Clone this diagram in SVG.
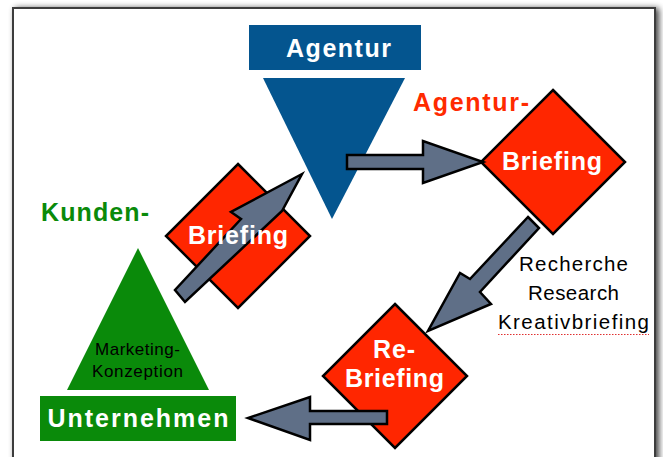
<svg xmlns="http://www.w3.org/2000/svg" width="663" height="457" viewBox="0 0 663 457">
  <defs>
    <filter id="pageShadow" x="-5%" y="-5%" width="110%" height="110%">
      <feGaussianBlur in="SourceAlpha" stdDeviation="3"/>
      <feOffset dx="3" dy="1" result="blur"/>
      <feComponentTransfer><feFuncA type="linear" slope="0.75"/></feComponentTransfer>
      <feMerge><feMergeNode/><feMergeNode in="SourceGraphic"/></feMerge>
    </filter>
    <style>
      .bold { font-family: "Liberation Sans", Arial, sans-serif; font-weight: bold; font-size: 25px; }
      .plain { font-family: "Liberation Sans", Arial, sans-serif; font-weight: normal; fill: #000; }
      .white { fill: #fff; }
      .diamond { fill: #ff2600; stroke: #000; stroke-width: 2.5; stroke-linejoin: miter; }
      .arrow { fill: #5f6f87; stroke: #000; stroke-width: 2.5; stroke-linejoin: miter; }
      .blue { fill: #04558f; }
      .green { fill: #0a8a0a; }
    </style>
  </defs>

  <rect x="0" y="0" width="663" height="457" fill="#fff"/>

  <!-- slide page with border and shadow -->
  <g id="page">
    <rect x="13" y="8" width="642" height="470" fill="#fff" stroke="#3c3c3c" stroke-width="2" filter="url(#pageShadow)"/>
  </g>

  <!-- Agentur: box and funnel -->
  <g id="agentur">
    <rect class="blue" x="249" y="25" width="172" height="45"/>
    <text class="bold white" x="338.5" y="57" text-anchor="middle" textLength="105" lengthAdjust="spacing">Agentur</text>
    <polygon class="blue" points="263,78 405,78 332,219"/>
  </g>

  <!-- Kunden-Briefing (label drawn above the connectors) -->
  <g id="kunden-briefing">
    <text class="bold" x="41" y="221" fill="#0a8a0a" textLength="108" lengthAdjust="spacing">Kunden-</text>
    <polygon class="diamond" points="238,164 310,236 238,308 166,236"/>
  </g>

  <!-- Agentur-Briefing -->
  <g id="agentur-briefing">
    <text class="bold" x="413" y="111" fill="#ff2a00" textLength="116" lengthAdjust="spacing">Agentur-</text>
    <polygon class="diamond" points="553,90 625,162 553,234 481,162"/>
    <text class="bold white" x="552" y="170" text-anchor="middle" textLength="100" lengthAdjust="spacing">Briefing</text>
  </g>

  <!-- Re-Briefing -->
  <g id="re-briefing">
    <polygon class="diamond" points="395,304 467,376 395,448 323,376"/>
    <text class="bold white" x="394" y="358" text-anchor="middle" textLength="42" lengthAdjust="spacing">Re-</text>
    <text class="bold white" x="394.5" y="387" text-anchor="middle" textLength="99" lengthAdjust="spacing">Briefing</text>
  </g>

  <!-- Unternehmen: triangle and box -->
  <g id="unternehmen">
    <polygon class="green" points="138,248 209,390 67,390"/>
    <text class="plain" x="137.5" y="355" font-size="17" text-anchor="middle" textLength="85" lengthAdjust="spacing">Marketing-</text>
    <text class="plain" x="137.5" y="377" font-size="17" text-anchor="middle" textLength="91" lengthAdjust="spacing">Konzeption</text>
    <rect class="green" x="40" y="396" width="196" height="45"/>
    <text class="bold white" x="138" y="427" text-anchor="middle" textLength="181" lengthAdjust="spacing">Unternehmen</text>
  </g>

  <!-- research notes -->
  <g id="notes">
    <text class="plain" x="573.5" y="271" font-size="20.5" text-anchor="middle" textLength="109" lengthAdjust="spacing">Recherche</text>
    <text class="plain" x="573.5" y="300" font-size="20.5" text-anchor="middle" textLength="91" lengthAdjust="spacing">Research</text>
    <text class="plain" x="573.5" y="329" font-size="20.5" text-anchor="middle" textLength="151" lengthAdjust="spacing">Kreativbriefing</text>
    <line x1="498" y1="334.5" x2="649" y2="334.5" stroke="#e03030" stroke-width="1.2" stroke-dasharray="1.5 1.5"/>
  </g>

  <!-- connectors -->
  <g id="connectors">
    <polygon class="arrow" points="302,174 231,212 241,219 175,290 185,302 282,211"/>
    <polygon class="arrow" points="347,155 423,155 423,141 483,162 423,183 423,169 347,169"/>
    <polygon class="arrow" points="528,217 539,228 480,292 491,304 428,331 460,273 470,279"/>
    <polygon class="arrow" points="387,411 310,411 310,397 248,418 310,440 310,424 387,424"/>
  </g>

  <g id="kunden-briefing-label">
    <text class="bold white" x="238" y="244" text-anchor="middle" textLength="100" lengthAdjust="spacing">Briefing</text>
  </g>
</svg>
